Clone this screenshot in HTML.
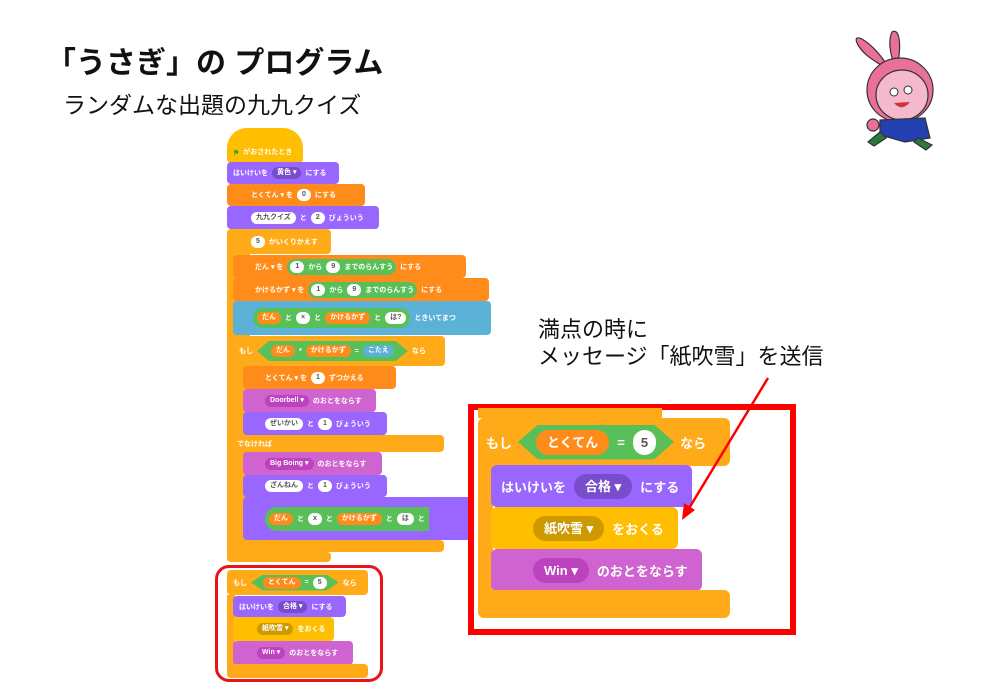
<!DOCTYPE html>
<html><head><meta charset="utf-8"><style>
*{margin:0;padding:0;box-sizing:border-box}
body{width:1000px;height:692px;background:#fff;position:relative;overflow:hidden;font-family:"Liberation Sans","Noto Sans CJK JP",sans-serif}
.t{position:absolute;white-space:nowrap;color:#111}
.b{position:absolute;border-radius:4px;color:#fff;font-size:7px;font-weight:bold;display:flex;align-items:center;padding-left:6px;gap:4px;white-space:nowrap}
.ctl{background:#ffab19}.lk{background:#9966ff}.vr{background:#ff8c1a}.sn{background:#cf63cf}.ev{background:#ffbf00}.se{background:#5cb1d6}
.p{display:inline-block;border-radius:10px;padding:1px 5px;line-height:10px}
.w{background:#fff;color:#555}
.gr{background:#59c059;border-radius:12px;padding:2px 3px;display:inline-flex;gap:4px;align-items:center}
.hx{clip-path:polygon(0 50%,12px 0,calc(100% - 12px) 0,100% 50%,calc(100% - 12px) 100%,12px 100%);border-radius:0}
.dv{background:#774dcb}.ds{background:#bd42bd}.de{background:#cc9900}
.o{background:#ff8c1a}.bl{background:#5cb1d6}
.B{font-size:13px;gap:8px;padding-left:12px;border-radius:6px}
.B .p{border-radius:16px;padding:4px 11px;line-height:17px}
</style></head><body>
<div class="t" style="left:46px;top:38px;font-size:30px;font-weight:bold">「うさぎ」の プログラム</div>
<div class="t" style="left:63px;top:86px;font-size:23px">ランダムな出題の九九クイズ</div>
<div class="t" style="left:538px;top:316px;font-size:22px;line-height:27px">満点の時に<br>メッセージ「紙吹雪」を送信</div>

<!-- left stack -->
<div class="b ctl" style="left:240px;top:252px;width:10px;height:305px;border-radius:0"></div>
<div class="b ctl" style="left:227px;top:230px;width:16px;height:332px;border-radius:4px 0 0 4px"></div>
<div class="b ev" style="left:227px;top:128px;width:76px;height:35px;border-radius:20px 20px 4px 4px;align-items:flex-end;padding-bottom:6px"><span style="color:#2a2">⚑</span>がおされたとき</div>
<div class="b lk" style="left:227px;top:162px;width:112px;height:22px">はいけいを <span class="p dv">黄色 ▾</span> にする</div>
<div class="b vr" style="left:227px;top:184px;width:138px;height:22px;padding-left:24px">とくてん ▾ を <span class="p w">0</span> にする</div>
<div class="b lk" style="left:227px;top:206px;width:152px;height:23px;padding-left:24px"><span class="p w">九九クイズ</span> と <span class="p w">2</span> びょういう</div>
<div class="b ctl" style="left:227px;top:229px;width:104px;height:25px;padding-left:24px"><span class="p w">5</span> かいくりかえす</div>
<div class="b ctl" style="left:227px;top:552px;width:104px;height:10px"></div>
<div class="b ctl" style="left:233px;top:364px;width:12px;height:180px;border-radius:0"></div>
<div class="b vr" style="left:233px;top:255px;width:233px;height:23px;padding-left:22px">だん ▾ を <span class="gr"><span class="p w">1</span>から<span class="p w">9</span>までのらんすう</span> にする</div>
<div class="b vr" style="left:233px;top:278px;width:256px;height:23px;padding-left:22px">かけるかず ▾ を <span class="gr"><span class="p w">1</span>から<span class="p w">9</span>までのらんすう</span> にする</div>
<div class="b se" style="left:233px;top:301px;width:258px;height:34px;padding-left:20px"><span class="gr" style="padding:4px"><span class="p o">だん</span>と<span class="p w">×</span>と<span class="p o">かけるかず</span>と<span class="p w">は?</span></span>ときいてまつ</div>
<div class="b ctl" style="left:233px;top:336px;width:212px;height:30px">もし <span class="gr hx" style="padding:4px 14px"><span class="p o">だん</span>*<span class="p o">かけるかず</span>=<span class="p bl">こたえ</span></span> なら</div>
<div class="b vr" style="left:243px;top:366px;width:153px;height:23px;padding-left:22px">とくてん ▾ を <span class="p w">1</span> ずつかえる</div>
<div class="b sn" style="left:243px;top:389px;width:133px;height:23px;padding-left:22px"><span class="p ds">Doorbell ▾</span> のおとをならす</div>
<div class="b lk" style="left:243px;top:412px;width:144px;height:23px;padding-left:22px"><span class="p w">ぜいかい</span> と <span class="p w">1</span> びょういう</div>
<div class="b ctl" style="left:233px;top:435px;width:211px;height:17px;padding-left:4px">でなければ</div>
<div class="b sn" style="left:243px;top:452px;width:139px;height:23px;padding-left:22px"><span class="p ds">Big Boing ▾</span> のおとをならす</div>
<div class="b lk" style="left:243px;top:475px;width:144px;height:22px;padding-left:22px"><span class="p w">ざんねん</span> と <span class="p w">1</span> びょういう</div>
<div class="b lk" style="left:243px;top:497px;width:230px;height:43px;padding-left:22px;border-radius:4px 0 0 4px"><span class="gr" style="padding:6px 4px;border-radius:16px 0 0 16px"><span class="p o">だん</span>と<span class="p w">x</span>と<span class="p o">かけるかず</span>と<span class="p w">は</span>と</span></div>
<div class="b ctl" style="left:233px;top:540px;width:211px;height:12px"></div>

<div style="position:absolute;left:215px;top:565px;width:168px;height:117px;border:3px solid #e8141b;border-radius:14px"></div>
<div class="b ctl" style="left:227px;top:570px;width:141px;height:25px">もし <span class="gr hx" style="padding:2px 12px"><span class="p o">とくてん</span>=<span class="p w">5</span></span> なら</div>
<div class="b ctl" style="left:227px;top:595px;width:8px;height:72px;border-radius:0"></div>
<div class="b lk" style="left:233px;top:596px;width:113px;height:21px">はいけいを <span class="p dv">合格 ▾</span> にする</div>
<div class="b ev" style="left:233px;top:617px;width:101px;height:24px;padding-left:24px"><span class="p de">紙吹雪 ▾</span> をおくる</div>
<div class="b sn" style="left:233px;top:641px;width:120px;height:24px;padding-left:24px"><span class="p ds">Win ▾</span> のおとをならす</div>
<div class="b ctl" style="left:227px;top:664px;width:141px;height:14px"></div>

<!-- big panel -->
<div style="position:absolute;left:468px;top:404px;width:328px;height:231px;border:6px solid #f00"></div>
<div class="b ctl" style="left:478px;top:408px;width:184px;height:10px;border-radius:0"></div>
<div class="b ctl" style="left:478px;top:418px;width:15px;height:190px;border-radius:6px 0 0 6px"></div>
<div class="b ctl B" style="left:478px;top:418px;width:252px;height:48px;padding-left:8px;gap:6px">もし <span class="gr hx" style="padding:5px 18px;gap:8px;clip-path:polygon(0 50%,20px 0,calc(100% - 20px) 0,100% 50%,calc(100% - 20px) 100%,20px 100%)"><span class="p o">とくてん</span>=<span class="p w" style="padding:4px 8px">5</span></span> なら</div>
<div class="b lk B" style="left:491px;top:465px;width:201px;height:42px;padding-left:10px">はいけいを <span class="p dv">合格 ▾</span> にする</div>
<div class="b ev B" style="left:491px;top:507px;width:187px;height:42px;padding-left:42px"><span class="p de">紙吹雪 ▾</span> をおくる</div>
<div class="b sn B" style="left:491px;top:549px;width:211px;height:42px;padding-left:42px"><span class="p ds">Win ▾</span> のおとをならす</div>
<div class="b ctl" style="left:478px;top:590px;width:252px;height:28px;border-radius:6px"></div>

<svg style="position:absolute;left:0;top:0" width="1000" height="692">
<line x1="768" y1="378" x2="688" y2="510" stroke="#f00" stroke-width="2.5"/>
<polygon points="682,520 684,503 695,510" fill="#f00"/>
<g stroke="#333" stroke-width="1.2">
<path d="M885,62 C870,40 850,30 858,45 C866,58 878,62 885,68Z" fill="#e8709a"/>
<path d="M898,62 C902,40 898,28 892,32 C888,40 890,55 895,66Z" fill="#e8709a"/>
<ellipse cx="900" cy="90" rx="33" ry="32" fill="#e8709a"/>
<ellipse cx="902" cy="95" rx="26" ry="25" fill="#f4b8cf"/>
<path d="M880,120 L925,118 L930,138 L905,142 L880,135Z" fill="#2340b0"/>
<path d="M880,132 L868,142 L874,146 L886,138Z" fill="#2a7a3a"/>
<path d="M918,138 L932,145 L926,150 L914,142Z" fill="#2a7a3a"/>
<circle cx="873" cy="125" r="6" fill="#e8709a"/>
</g>
<circle cx="894" cy="92" r="4" fill="#fff" stroke="#333"/><circle cx="908" cy="90" r="4" fill="#fff" stroke="#333"/>
<path d="M894,103 Q902,112 910,102Z" fill="#c33"/>
</svg>
</body></html>
